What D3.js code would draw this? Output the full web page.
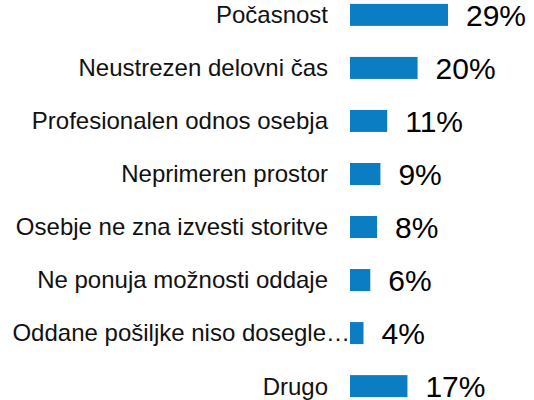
<!DOCTYPE html>
<html>
<head>
<meta charset="utf-8">
<script src="https://cdn.jsdelivr.net/npm/d3@7"></script>
<style>
body{margin:0;background:#fff;}
svg{display:block;font-family:Arial,"Liberation Sans",sans-serif;}
</style>
</head>
<body>
<svg id="chart"></svg>
<script>
const size={width:534,height:400};
const categories=['Počasnost','Neustrezen delovni čas','Profesionalen odnos osebja','Neprimeren prostor','Osebje ne zna izvesti storitve','Ne ponuja možnosti oddaje','Oddane pošiljke niso dosegle…','Drugo'];
const values=[29,20,11,9,8,6,4,17];

const svg=d3.select('#chart').attr('width',size.width).attr('height',size.height);

const x=d3.scaleLinear().domain([0,29]).range([350,448]);
const y=d3.scaleBand().domain(categories).range([-11.5,412.5]).paddingInner(0.585).paddingOuter(0.29);

const rows=svg.selectAll('g.row').data(categories).join('g').attr('class','row');

rows.append('rect')
    .attr('x',x(0))
    .attr('y',d=>y(d))
    .attr('width',(d,i)=>x(values[i])-x(0))
    .attr('height',y.bandwidth())
    .attr('fill','#0b7dc3');

// truncated labels spill their ellipsis past the usual right edge
rows.append('text')
    .attr('x',d=>d.endsWith('…')?350:328)
    .attr('y',d=>y(d)+y.bandwidth()/2)
    .attr('dy','0.35em')
    .attr('text-anchor','end')
    .style('font-size','24px')
    .attr('fill','#111')
    .text(d=>d);

rows.append('text')
    .attr('x',(d,i)=>x(values[i])+18)
    .attr('y',d=>y(d)+y.bandwidth()/2)
    .attr('dy','0.36em')
    .style('font-size','30px')
    .attr('fill','#000')
    .text((d,i)=>values[i]+'%');
</script>
</body>
</html>
